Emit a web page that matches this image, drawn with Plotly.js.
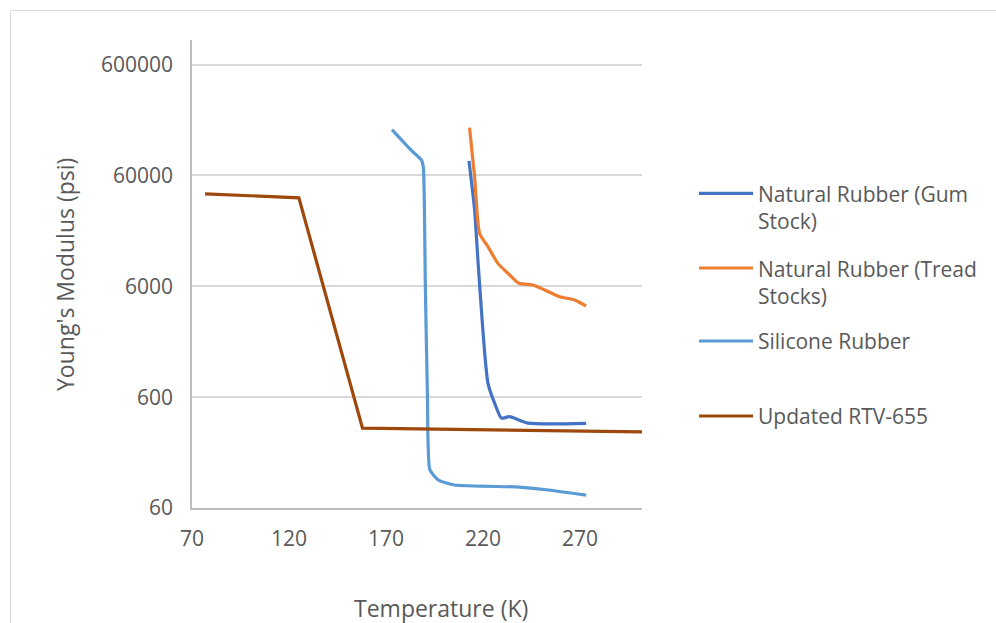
<!DOCTYPE html>
<html>
<head>
<meta charset="utf-8">
<script src="https://cdn.plot.ly/plotly-3.0.1.min.js"></script>
<style>
  html, body { margin: 0; padding: 0; background: #ffffff; }
  #chart { width: 996px; height: 623px; }
</style>
</head>
<body>
<div id="chart"></div>
<script>
// Young's modulus of several rubbers against temperature (log scale)
const seriesNames = [
  'Natural Rubber (Gum Stock)',
  'Natural Rubber (Tread Stocks)',
  'Silicone Rubber',
  'Updated RTV-655'
];
const seriesColors = ['#4472C4', '#ED7D31', '#5B9BD5', '#9E480E'];

const gumTemp = [212.8, 215.7, 217.4, 219.2, 220.9, 222.6, 226.0, 229.5, 233.7, 243.2, 273.2];
const gumModulus = [81200, 29200, 10350, 3670, 1500, 800, 530, 388, 401, 350, 348];

const treadTemp = [213.1, 215.7, 218.3, 222.6, 227.7, 232.9, 238.5, 245.7, 251.8, 259.5, 267.2, 273.2];
const treadModulus = [162300, 58300, 18000, 13650, 9660, 7860, 6390, 6160, 5560, 4830, 4520, 3990];

const siliconeTemp = [173.1, 183.1, 188.3, 189.3, 190.3, 191.4, 192.6, 196.8, 205.4, 238.9, 252.6, 273.2];
const siliconeModulus = [155700, 101000, 82400, 70000, 6000, 600, 133, 108, 96.7, 92.7, 87.7, 78.5];

const rtvTemp = [76.7, 125.1, 157.9, 302];
const rtvModulus = [40950, 37700, 315, 292];

const xTicks = [70, 120, 170, 220, 270];
const yTicks = [60, 600, 6000, 60000, 600000];
const yTickLabels = ['60', '600', '6000', '60000', '600000'];

const xTitle = 'Temperature (K)';
const yTitle = "Young's Modulus (psi)";

// plot area geometry in page pixels
const W = 996, H = 623;
const M = { l: 192, r: 354, t: 40, b: 115 };
const plotW = W - M.l - M.r;
const plotH = H - M.t - M.b;
const px = x => (x - M.l) / plotW;
const py = y => (H - M.b - y) / plotH;

const textColor = '#595959';
const fontFamily = '"Open Sans", "Noto Sans", sans-serif';

const traces = [
  { x: gumTemp, y: gumModulus, smoothing: 0.6 },
  { x: treadTemp, y: treadModulus, smoothing: 0.6 },
  { x: siliconeTemp, y: siliconeModulus, smoothing: 0.5 },
  { x: rtvTemp, y: rtvModulus, linear: true }
].map((s, i) => ({
  type: 'scatter',
  mode: 'lines',
  name: seriesNames[i],
  x: s.x,
  y: s.y,
  line: {
    color: seriesColors[i],
    width: 3.2,
    shape: s.linear ? 'linear' : 'spline',
    smoothing: s.smoothing || 0
  },
  hoverinfo: 'x+y+name',
  showlegend: false
}));

// legend built beside the plot: line sample + wrapped label
const legendLabels = [
  'Natural Rubber (Gum<br>Stock)',
  'Natural Rubber (Tread<br>Stocks)',
  'Silicone Rubber',
  'Updated RTV-655'
];
const legendLineY = [193.3, 268, 341, 416];
const legendTextY = [208, 282.5, 341, 416];

const shapes = [
  // outer chart frame
  {
    type: 'rect', xref: 'paper', yref: 'paper',
    x0: px(10.5), x1: px(1010), y0: py(640), y1: py(10.5),
    line: { color: '#d9d9d9', width: 1 }, fillcolor: 'rgba(0,0,0,0)', layer: 'below'
  }
];
const annotations = [];
seriesNames.forEach((n, i) => {
  shapes.push({
    type: 'line', xref: 'paper', yref: 'paper',
    x0: px(699), x1: px(753), y0: py(legendLineY[i]), y1: py(legendLineY[i]),
    line: { color: seriesColors[i], width: 3.2 }
  });
  annotations.push({
    xref: 'paper', yref: 'paper', x: px(756), y: py(legendTextY[i]),
    xanchor: 'left', yanchor: 'middle', align: 'left', showarrow: false,
    text: legendLabels[i], font: { family: fontFamily, size: 21, color: textColor }
  });
});

annotations.push({
  xref: 'paper', yref: 'paper', x: px(441), y: py(608),
  xanchor: 'center', yanchor: 'middle', showarrow: false,
  text: xTitle, font: { family: fontFamily, size: 23, color: textColor }
});
annotations.push({
  xref: 'paper', yref: 'paper', x: px(65), y: py(275),
  xanchor: 'center', yanchor: 'middle', showarrow: false, textangle: -90,
  text: yTitle, font: { family: fontFamily, size: 23, color: textColor }
});

const layout = {
  width: W, height: H,
  margin: M,
  paper_bgcolor: '#ffffff',
  plot_bgcolor: '#ffffff',
  font: { family: fontFamily, color: textColor, size: 21 },
  showlegend: false,
  xaxis: {
    range: [70, 302],
    tickvals: xTicks,
    ticktext: xTicks.map(String),
    ticks: '',
    showgrid: false,
    zeroline: false,
    showline: true,
    linecolor: '#bfbfbf',
    linewidth: 1.5,
    ticklabelstandoff: 11,
    tickfont: { size: 21, color: textColor }
  },
  yaxis: {
    type: 'log',
    range: [Math.log10(60), 6],
    tickvals: yTicks,
    ticktext: yTickLabels,
    ticks: '',
    showgrid: true,
    gridcolor: '#d9d9d9',
    gridwidth: 1.5,
    zeroline: false,
    showline: true,
    linecolor: '#bfbfbf',
    linewidth: 1.5,
    ticklabelstandoff: 13,
    tickfont: { size: 21, color: textColor }
  },
  shapes: shapes,
  annotations: annotations
};

Plotly.newPlot('chart', traces, layout, { displayModeBar: false, staticPlot: false });
</script>
</body>
</html>
